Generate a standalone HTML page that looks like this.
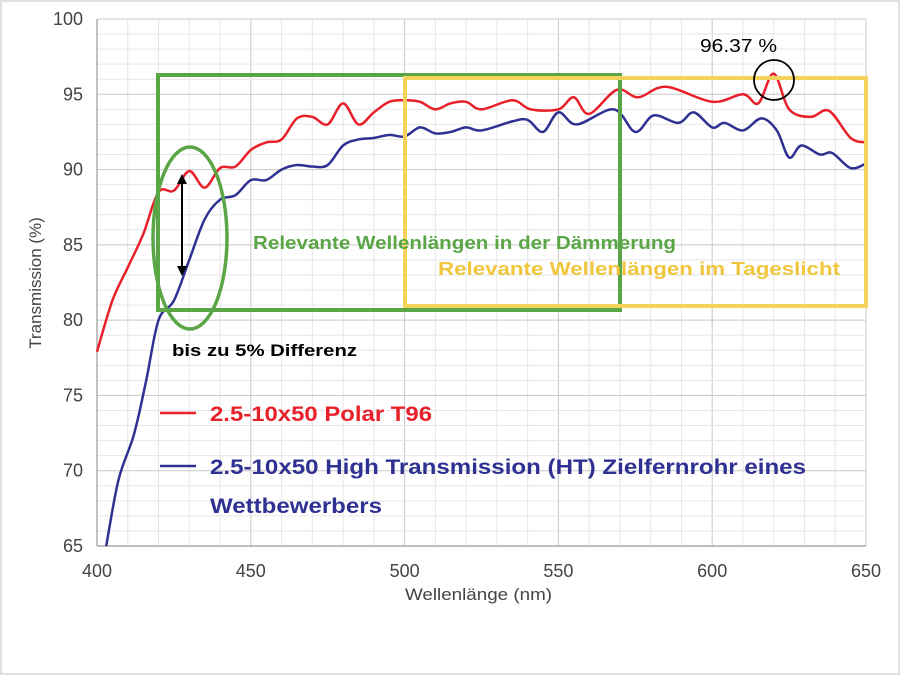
<!DOCTYPE html>
<html><head><meta charset="utf-8"><style>
html,body{margin:0;padding:0;background:#fff}
svg{display:block}
text{font-family:"Liberation Sans",Arial,sans-serif}
</style></head><body>
<svg width="900" height="675" viewBox="0 0 900 675">
<rect x="1" y="1" width="898" height="673" fill="#fff" stroke="#e0e0e0" stroke-width="2"/>
<g id="grid"></g>
<g id="axes"></g>
<g id="series"></g>
<g id="annot">
  <rect x="158" y="75" width="462" height="235" fill="none" stroke="#5aa646" stroke-width="4"/>
  <rect x="405" y="78" width="461" height="228" fill="none" stroke="#f5d25a" stroke-width="4"/>
  <ellipse cx="190" cy="238" rx="37" ry="91" fill="none" stroke="#5aa646" stroke-width="3.5"/>
  <line x1="182" y1="180" x2="182" y2="270" stroke="#000" stroke-width="2"/>
  <polygon points="182,174 177,184 187,184" fill="#000"/>
  <polygon points="182,276 177,266 187,266" fill="#000"/>
  <circle cx="774" cy="80" r="20" fill="none" stroke="#000" stroke-width="1.8"/>
  <text x="700" y="52" font-size="18" textLength="77" lengthAdjust="spacingAndGlyphs" fill="#000">96.37 %</text>
  <text x="253" y="249" font-size="18" font-weight="bold" textLength="423" lengthAdjust="spacingAndGlyphs" fill="#5aa646">Relevante Wellenlängen in der Dämmerung</text>
  <text x="438" y="275" font-size="18" font-weight="bold" textLength="402" lengthAdjust="spacingAndGlyphs" fill="#f0c63c">Relevante Wellenlängen im Tageslicht</text>
  <text x="172" y="356" font-size="17" font-weight="bold" textLength="185" lengthAdjust="spacingAndGlyphs" fill="#000">bis zu 5% Differenz</text>
  <line x1="160" y1="413" x2="196" y2="413" stroke="#e8202a" stroke-width="2.5"/>
  <text x="210" y="421" font-size="21" font-weight="bold" textLength="222" lengthAdjust="spacingAndGlyphs" fill="#e8202a">2.5-10x50 Polar T96</text>
  <line x1="160" y1="466" x2="196" y2="466" stroke="#2e3192" stroke-width="2.5"/>
  <text x="210" y="474" font-size="21" font-weight="bold" textLength="596" lengthAdjust="spacingAndGlyphs" fill="#2e3192">2.5-10x50 High Transmission (HT) Zielfernrohr eines</text>
  <text x="210" y="513" font-size="21" font-weight="bold" textLength="172" lengthAdjust="spacingAndGlyphs" fill="#2e3192">Wettbewerbers</text>
</g>
<text x="405" y="600" font-size="17" textLength="147" lengthAdjust="spacingAndGlyphs" fill="#444">Wellenlänge (nm)</text>
<text transform="translate(41,283) rotate(-90)" font-size="17" fill="#444" text-anchor="middle">Transmission (%)</text>
</svg>
<script>
const xTicks=[400,450,500,550,600,650];
const yTicks=[65,70,75,80,85,90,95,100];
const redX=[400,405,410,415,420,425,430,435,440,445,450,455,460,465,470,475,480,485,490,495,500,505,510,515,520,525,535,541,550,555,560,569,576,585,600,610,615,620,625,632,638,645,650];
const redY=[77.9,81.3,83.5,85.7,88.5,88.6,89.9,88.8,90.1,90.2,91.3,91.8,92,93.4,93.5,93,94.4,93,93.8,94.5,94.6,94.5,94.0,94.4,94.5,94.0,94.6,94,94,94.8,93.7,95.3,94.8,95.5,94.5,95,94.4,96.37,94,93.5,93.9,92.1,91.8];
const blueX=[403,407,412,416,420,425,430,435,440,445,450,455,460,465,470,475,480,485,490,495,500,505,510,515,520,525,535,540,545,550,556,568,575,581,589,594,600,604,610,616,621,625,629,635,639,645,650];
const blueY=[65,69.4,72.4,76,80,81.3,84,86.7,88,88.3,89.3,89.3,90,90.3,90.2,90.3,91.6,92,92.1,92.3,92.2,92.8,92.4,92.5,92.8,92.6,93.2,93.3,92.5,93.8,93,94,92.5,93.6,93.1,93.8,92.8,93.1,92.6,93.4,92.6,90.8,91.6,91,91.1,90.1,90.4];
const X0=97,X1=866,Y0=546,Y1=19;
const sx=v=>X0+(v-400)/250*(X1-X0);
const sy=v=>Y0-(v-65)/35*(Y0-Y1);
const NS="http://www.w3.org/2000/svg";
function mk(t,a,p){const e=document.createElementNS(NS,t);for(const k in a)e.setAttribute(k,a[k]);p.appendChild(e);return e;}
const grid=document.getElementById('grid'),axes=document.getElementById('axes'),series=document.getElementById('series');
for(let v=400;v<=650;v+=10){const l=mk('line',{x1:sx(v),x2:sx(v),y1:Y1,y2:Y0,stroke:v%50===0?'#c8c8c8':'#e6e6e6','stroke-width':1},grid);

}
for(let v=65;v<=100;v+=1){const l=mk('line',{x1:X0,x2:X1,y1:sy(v),y2:sy(v),stroke:v%5===0?'#c8c8c8':'#e6e6e6','stroke-width':1},grid);

}
const ax=mk('line',{x1:X0,x2:X0,y1:Y1,y2:Y0,stroke:'#999','stroke-width':1.2},axes);


const bx=mk('line',{x1:X0,x2:X1,y1:Y0,y2:Y0,stroke:'#999','stroke-width':1.2},axes);


xTicks.forEach(v=>{const t=mk('text',{x:sx(v),y:Y0+31,'font-size':18,fill:'#444','text-anchor':'middle'},axes);t.textContent=v;

});
yTicks.forEach(v=>{const t=mk('text',{x:X0-14,y:sy(v)+6,'font-size':18,fill:'#444','text-anchor':'end'},axes);t.textContent=v;

});
function smooth(xs,ys){const p=xs.map((x,i)=>[sx(x),sy(ys[i])]);let d='M'+p[0][0]+','+p[0][1];
for(let i=0;i<p.length-1;i++){const a=p[Math.max(0,i-1)],b=p[i],c=p[i+1],e=p[Math.min(p.length-1,i+2)];
const c1=[b[0]+(c[0]-a[0])/6,b[1]+(c[1]-a[1])/6],c2=[c[0]-(e[0]-b[0])/6,c[1]-(e[1]-b[1])/6];
d+=' C'+c1[0]+','+c1[1]+' '+c2[0]+','+c2[1]+' '+c[0]+','+c[1];}return d;}
const r=mk('path',{d:smooth(redX,redY),fill:'none',stroke:'#e8202a','stroke-width':2.5},series);


const b=mk('path',{d:smooth(blueX,blueY),fill:'none',stroke:'#2e3192','stroke-width':2.5},series);


</script>
</body></html>
